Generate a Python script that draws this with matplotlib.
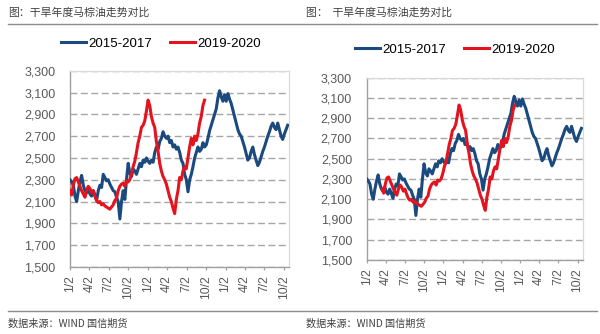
import numpy as np
import matplotlib
matplotlib.use("Agg")
import matplotlib.pyplot as plt
from matplotlib.lines import Line2D
from matplotlib.ticker import FuncFormatter

plt.rcParams['font.family'] = ['Liberation Sans', 'Noto Sans CJK SC', 'DejaVu Sans']

# Axis: months since 1/2 of the first year, ticks every quarter
tick_labels = ["1/2", "4/2", "7/2", "10/2"] * 3
tick_months = np.arange(0, 34, 3)
y_ticks = np.arange(1500, 3301, 200)

# Weekly palm oil prices, 2015-2017 drought cycle
blue_label = "2015-2017"
blue_span = 33.6  # months covered by the series
blue = [
    2300, 2280, 2250, 2150, 2100, 2200, 2280, 2340, 2250, 2200,
    2180, 2220, 2170, 2150, 2200, 2160, 2110, 2200, 2250, 2230,
    2350, 2320, 2290, 2300, 2260, 2230, 2200, 2190, 2140, 2100,
    1940, 2100, 2200, 2120, 2300, 2450, 2360, 2330, 2400, 2380,
    2350, 2400, 2450, 2420, 2480, 2460, 2500, 2470, 2450, 2480,
    2460, 2550, 2600, 2580, 2650, 2680, 2740, 2700, 2680, 2700,
    2640, 2660, 2600, 2620, 2580, 2600, 2550, 2480, 2450, 2350,
    2300, 2190, 2300, 2350, 2420, 2500, 2550, 2600, 2560, 2580,
    2640, 2600, 2620, 2680, 2750, 2800, 2850, 2900, 2950, 3050,
    3116, 3060, 3020, 3080, 3020, 3090, 3040, 3000, 2940, 2880,
    2820, 2760, 2720, 2700, 2650, 2600, 2540, 2480, 2500, 2560,
    2600, 2530, 2480, 2430, 2460, 2510, 2560, 2600, 2650, 2700,
    2740, 2790, 2820, 2780, 2760, 2820, 2760, 2700, 2670, 2720,
    2760, 2800,
]

# Weekly palm oil prices, 2019-2020
red_label = "2019-2020"
red_span = 20.77
red = [
    2200, 2160, 2250, 2310, 2320, 2280, 2240, 2200, 2170, 2140,
    2200, 2240, 2220, 2180, 2200, 2150, 2110, 2090, 2100, 2070,
    2080, 2060, 2050, 2040, 2030, 2050, 2070, 2110, 2130, 2200,
    2240, 2260, 2270, 2240, 2290, 2280, 2300, 2350, 2420, 2470,
    2550, 2640, 2700, 2780, 2800, 2840, 2930, 3030, 2980, 2880,
    2820, 2780, 2650, 2560, 2450, 2380, 2330, 2300, 2260, 2200,
    2140, 2100, 2040, 1990, 2120, 2200, 2320, 2300, 2380, 2420,
    2400, 2500, 2600, 2680, 2620, 2700, 2660, 2720, 2820, 2880,
    2980, 3030,
]
# Start offset of the 2019-2020 series (months) in each panel
red_offsets = [0.0, 2.4]

title_texts = ["图：干旱年度马棕油走势对比", "图：  干旱年度马棕油走势对比"]
source_text = "数据来源：WIND 国信期货"

BLUE_C = "#1a4a7e"
RED_C = "#e3141e"
GRID_C = "#a6a6a6"
TEXT_C = "#595959"

W, H = 600, 334
fig = plt.figure(figsize=(W / 100, H / 100), dpi=100)
fig.patch.set_facecolor("white")

def fx(px):
    return px / W

def fy(py):
    return 1 - py / H

panels = [
    dict(rect=[fx(70), fy(267), fx(289) - fx(70), fy(70.7) - fy(267)],
         legend=(fx(161), fy(44)), title=(fx(8), fy(12.5)), source=(fx(8), fy(324))),
    dict(rect=[fx(366.7), fy(260), fx(582.7) - fx(366.7), fy(77.7) - fy(260)],
         legend=(fx(455), fy(50)), title=(fx(306.5), fy(12.5)), source=(fx(306), fy(324))),
]

blue_x = np.linspace(0, blue_span, len(blue))
red_x0 = np.linspace(0, red_span, len(red))

for i, p in enumerate(panels):
    ax = fig.add_axes(p["rect"])
    hb, = ax.plot(blue_x, blue, color=BLUE_C, lw=2.2, solid_joinstyle="round", label=blue_label, zorder=3)
    hr, = ax.plot(red_x0 + red_offsets[i], red, color=RED_C, lw=2.2, solid_joinstyle="round", label=red_label, zorder=4)

    ax.set_xlim(0, 33.8)
    ax.set_ylim(1500, 3300)
    ax.set_yticks(y_ticks)
    ax.yaxis.set_major_formatter(FuncFormatter(lambda v, _: f"{int(v):,}"))
    ax.set_xticks(tick_months)
    ax.set_xticklabels(tick_labels, rotation=90)

    ax.yaxis.grid(True, color=GRID_C, lw=1.0, linestyle=(0, (5, 2.5)))
    ax.set_axisbelow(True)

    for side in ("top", "right"):
        ax.spines[side].set_color("#d9d9d9")
        ax.spines[side].set_linewidth(0.9)
    for side in ("left", "bottom"):
        ax.spines[side].set_color("#a0a0a0")
        ax.spines[side].set_linewidth(1.0)

    ax.tick_params(axis="y", length=0, pad=10.5, labelsize=9, labelcolor=TEXT_C)
    ax.tick_params(axis="x", length=2.5, width=0.9, color="#a0a0a0", pad=3.5,
                   labelsize=8.8, labelcolor=TEXT_C, direction="out")

    fig.legend(handles=[hb, hr], loc="center", bbox_to_anchor=p["legend"],
               ncol=2, frameon=False, fontsize=9.5, handlelength=1.9,
               handletextpad=0.2, columnspacing=1.3, borderaxespad=0,
               borderpad=0)

    fig.text(p["title"][0], p["title"][1], title_texts[i], fontsize=7.8,
             color="#404040", va="center", ha="left",
             family=["Noto Sans CJK SC", "DejaVu Sans"])
    fig.text(p["source"][0], p["source"][1], source_text, fontsize=7.3,
             color="#404040", va="center", ha="left",
             family=["Noto Sans CJK SC", "DejaVu Sans"])

# Header and footer rules
for ypx in (24, 311):
    fig.add_artist(Line2D([fx(8), fx(597)], [fy(ypx), fy(ypx)],
                          color="#8c8c8c", lw=1.0, transform=fig.transFigure))

fig.savefig("out.png", dpi=100, facecolor="white")
